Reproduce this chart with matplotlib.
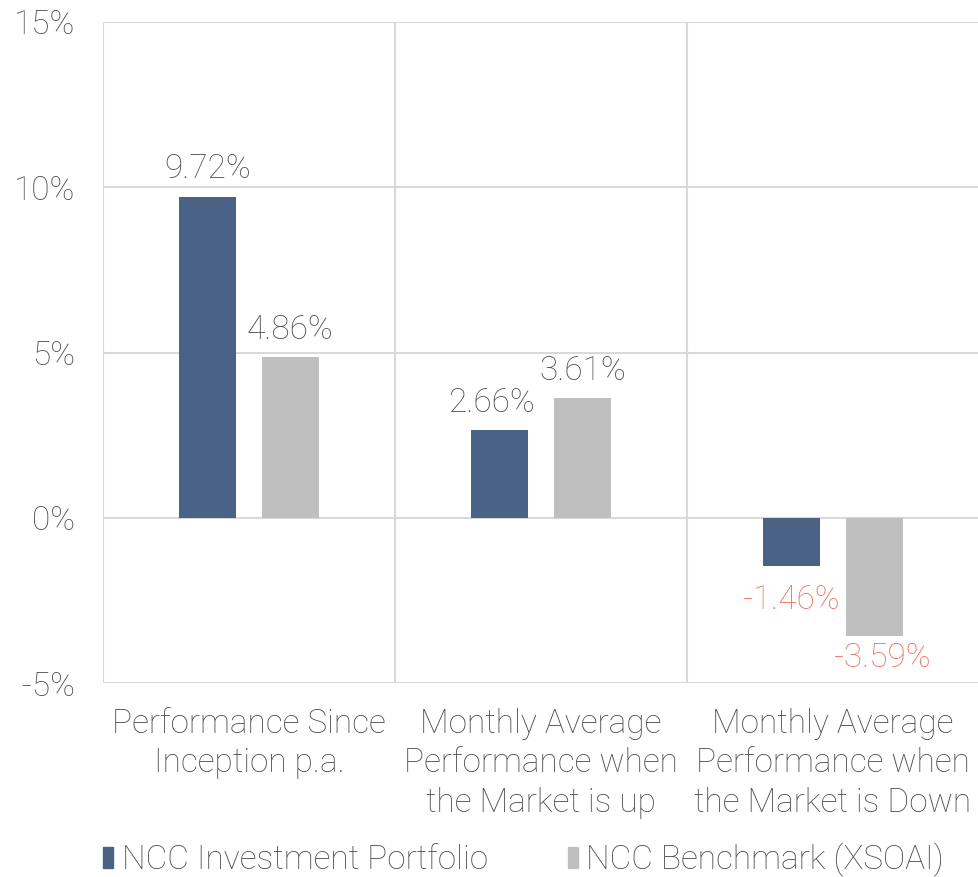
import matplotlib
matplotlib.use("Agg")
import matplotlib.pyplot as plt
import numpy as np
from matplotlib.patches import Patch

categories = ["Performance Since\nInception p.a.",
              "Monthly Average\nPerformance when\nthe Market is up",
              "Monthly Average\nPerformance when\nthe Market is Down"]
series_names = ["NCC Investment Portfolio", "NCC Benchmark (XSOAI)"]
portfolio = [9.72, 2.66, -1.46]
benchmark = [4.86, 3.61, -3.59]
yticks = [-5, 0, 5, 10, 15]
ytick_labels = ["-5%", "0%", "5%", "10%", "15%"]

dark = "#4A6286"
grey = "#BFBFBF"
text_c = "#505050"
neg_c = "#F0705C"
grid_c = "#D9D9D9"

plt.rcParams['font.family'] = ['Roboto', 'DejaVu Sans']
FW = 'light'
FS = 24

fig = plt.figure(figsize=(9.79, 8.77), dpi=100)
ax = fig.add_axes([103/979, 1-683/877, 1-103/979, (683-22)/877])

x = np.arange(len(categories))
w = 0.195
off = 0.142
b1 = ax.bar(x - off, portfolio, w, color=dark, zorder=3)
b2 = ax.bar(x + off, benchmark, w, color=grey, zorder=3)

ax.set_xlim(-0.5, 2.5)
ax.set_ylim(-5, 15)
ax.set_yticks(yticks)
ax.set_yticklabels(ytick_labels, fontsize=FS, color=text_c, fontweight=FW)
ax.tick_params(axis='y', length=0, pad=20)
ax.set_xticks([])
for yv in yticks:
    ax.axhline(yv, color=grid_c, lw=1.5, zorder=1)
for xv in [-0.5, 0.5, 1.5]:
    ax.axvline(xv, color=grid_c, lw=1.5, zorder=1)
for s in ax.spines.values():
    s.set_visible(False)

# label offsets (points) per series/category, mimicking the original placement
label_offsets = [[(0, 8), (-6, 8), (0, -13)],
                 [(0, 8), (0, 8), (6, -4)]]
for si, (bars, vals) in enumerate([(b1, portfolio), (b2, benchmark)]):
    for ci, (rect, v) in enumerate(zip(bars, vals)):
        cx = rect.get_x() + rect.get_width()/2
        dx, dy = label_offsets[si][ci]
        if v >= 0:
            ax.annotate(f"{v:.2f}%", (cx, v), xytext=(dx, dy), textcoords='offset points',
                        ha='center', va='bottom', fontsize=FS, color=text_c, fontweight=FW)
        else:
            ax.annotate(f"{v:.2f}%", (cx, v), xytext=(dx, dy), textcoords='offset points',
                        ha='center', va='top', fontsize=FS, color=neg_c, fontweight=FW)

for i, c in enumerate(categories):
    ax.text(i, -5.75, c, ha='center', va='top', fontsize=FS, color=text_c,
            fontweight=FW, linespacing=1.3)

handles = [Patch(color=dark), Patch(color=grey)]
leg = fig.legend(handles, series_names, loc='center', bbox_to_anchor=(0.535, 1-860/877),
                 ncol=2, frameon=False, fontsize=FS, handlelength=0.3, handleheight=0.6,
                 handletextpad=0.25, columnspacing=2.4)
for t in leg.get_texts():
    t.set_color(text_c)
    t.set_fontweight(FW)

fig.savefig("out.png", dpi=100)
